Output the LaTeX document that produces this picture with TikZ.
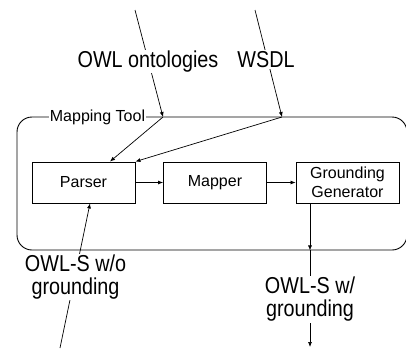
\documentclass[tikz,border=0pt]{standalone}
\usepackage{fontspec}
\setmainfont{Liberation Sans}
\newfontfamily\tallsans[FakeStretch=0.86]{Liberation Sans}
\usetikzlibrary{arrows.meta}
\begin{document}
\begin{tikzpicture}[x=1pt,y=-1pt,
  blk/.style={draw, line width=0.9pt, minimum width=103pt, minimum height=41pt,
    inner sep=0pt, align=center, font=\fontsize{16}{18.5}\selectfont},
  lbl/.style={fill=white, inner sep=1pt, align=center,
    font=\tallsans\fontsize{23}{23}\selectfont},
  conn/.style={line width=0.7pt, -{Latex[length=5pt,width=4pt]}},
]
\useasboundingbox (0,0) rectangle (406,348);

% enclosing tool frame
\node (frame) [draw, line width=0.9pt, rounded corners=15pt, inner sep=0pt,
  minimum width=390pt, minimum height=133pt] at (212,183.5) {};
\node (mt) [fill=white, inner sep=1pt, anchor=base, font=\fontsize{16}{18}\selectfont]
  at (97.5,121.7) {Mapping Tool};

% processing stages
\node (parser) [blk] at (83.5,182.5) {Parser};
\node (mapper) [blk] at (215,182.5) {Mapper};
\node (gg) [blk] at (347.5,182.5) {Grounding\\Generator};

% entry points and free ends
\coordinate (j1) at (163,117);
\coordinate (j2) at (282,117);
\coordinate (s1) at (135,10);
\coordinate (s2) at (255,10);
\coordinate (s3) at (60,348);
\coordinate (gout) at ([xshift=-37.5pt]gg.south);
\coordinate (fout) at (gout |- frame.south);
\coordinate (s4) at (310,347);

% connectors
\draw[conn] (s1) -- (j1);
\draw[conn] (s2) -- (j2);
\draw[conn] (j1) -- ([xshift=26.5pt]parser.north);
\draw[conn] (j2) -- (parser.north east);
\draw[conn] (parser) -- (mapper);
\draw[conn] (mapper) -- (gg);
\draw[conn] (s3) -- ([xshift=6.5pt]parser.south);
\draw[conn] (gout) -- (fout);
\draw[conn] (fout) -- (s4);

% external labels
\node (owl) [lbl, anchor=base] at (148,67.3) {OWL ontologies};
\node (wsdl) [lbl, anchor=base] at (266,67.3) {WSDL};
\node (inp) [lbl] at (75.5,277) {OWL-S w/o\\grounding};
\node (outp) [lbl] at (310,299.5) {OWL-S w/\\grounding};
\end{tikzpicture}
\end{document}
